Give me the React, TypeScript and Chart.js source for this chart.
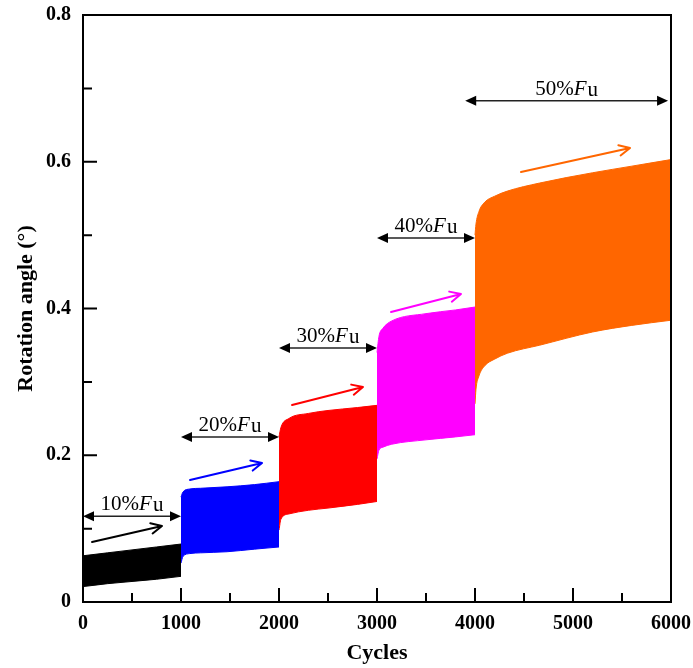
import React, { useEffect, useRef } from "react";
import { Chart, registerables } from "chart.js";

Chart.register(...registerables);

// ---- data ----
const stage10X = [0, 250, 500, 750, 1000];
const stage10Upper = [0.063, 0.067, 0.071, 0.075, 0.079];
const stage10Lower = [0.021, 0.025, 0.028, 0.031, 0.035];

const stage20X = [1000, 1020, 1090, 1200, 1470, 1750, 2000];
const stage20Upper = [0.143, 0.15, 0.154, 0.155, 0.157, 0.16, 0.164];
const stage20Lower = [0.053, 0.062, 0.066, 0.067, 0.0685, 0.072, 0.075];

const stage30X = [2000, 2020, 2100, 2300, 2500, 2800, 3000];
const stage30Upper = [0.225, 0.238, 0.25, 0.257, 0.261, 0.265, 0.268];
const stage30Lower = [0.098, 0.113, 0.12, 0.125, 0.128, 0.133, 0.137];

const stage40X = [3000, 3020, 3060, 3150, 3500, 3800, 4000];
const stage40Upper = [0.34, 0.362, 0.373, 0.383, 0.393, 0.398, 0.402];
const stage40Lower = [0.195, 0.207, 0.211, 0.215, 0.221, 0.225, 0.228];

const stage50X = [4000, 4010, 4040, 4100, 4200, 4330, 4660, 5200, 5600, 6000];
const stage50Upper = [0.5, 0.515, 0.532, 0.545, 0.553, 0.56, 0.571, 0.585, 0.594, 0.603];
const stage50Lower = [0.27, 0.29, 0.308, 0.322, 0.331, 0.339, 0.35, 0.368, 0.377, 0.384];

const stageLabels = ["10%", "20%", "30%", "40%", "50%"];
const stageColors = ["#000000", "#0000ff", "#ff0000", "#ff00ff", "#ff6600"];

// double-headed range arrows: [xStart, xEnd, y]
const rangeStart = [0, 1000, 2000, 3000, 3900];
const rangeEnd = [1000, 2000, 3000, 4000, 5970];
const rangeY = [0.117, 0.225, 0.346, 0.496, 0.683];

// trend arrows: from (x1,y1) to (x2,y2)
const trendX1 = [92, 1092, 2133, 3143, 4469];
const trendY1 = [0.0818, 0.1663, 0.2685, 0.3952, 0.586];
const trendX2 = [806, 1827, 2857, 3857, 5582];
const trendY2 = [0.1036, 0.1894, 0.293, 0.4198, 0.6187];

const xTicks = [0, 1000, 2000, 3000, 4000, 5000, 6000];
const yTicks = [0, 0.2, 0.4, 0.6, 0.8];

const SERIF = '"Liberation Serif", "Times New Roman", serif';

const stages = [
  { x: stage10X, up: stage10Upper, lo: stage10Lower },
  { x: stage20X, up: stage20Upper, lo: stage20Lower },
  { x: stage30X, up: stage30Upper, lo: stage30Lower },
  { x: stage40X, up: stage40Upper, lo: stage40Lower },
  { x: stage50X, up: stage50Upper, lo: stage50Lower },
];

const decorPlugin = {
  id: "decor",
  afterDatasetsDraw(chart: any) {
    const { ctx, chartArea, scales } = chart;
    const xs = scales.x;
    const ys = scales.y;
    ctx.save();
    // frame
    ctx.strokeStyle = "#000";
    ctx.lineWidth = 2;
    ctx.strokeRect(chartArea.left, chartArea.top, chartArea.right - chartArea.left, chartArea.bottom - chartArea.top);
    // inward ticks
    ctx.beginPath();
    for (let v = 0; v <= 6000; v += 500) {
      const px = xs.getPixelForValue(v);
      const len = v % 1000 === 0 ? 14 : 9;
      ctx.moveTo(px, chartArea.bottom);
      ctx.lineTo(px, chartArea.bottom - len);
    }
    for (let i = 0; i <= 8; i++) {
      const v = i * 0.1;
      const py = ys.getPixelForValue(v);
      const len = i % 2 === 0 ? 14 : 9;
      ctx.moveTo(chartArea.left, py);
      ctx.lineTo(chartArea.left + len, py);
    }
    ctx.stroke();

    // range arrows + labels
    for (let i = 0; i < rangeStart.length; i++) {
      const x1 = xs.getPixelForValue(rangeStart[i]);
      const x2 = xs.getPixelForValue(rangeEnd[i]);
      const y = ys.getPixelForValue(rangeY[i]);
      ctx.strokeStyle = "#222";
      ctx.fillStyle = "#000";
      ctx.lineWidth = 1.5;
      ctx.beginPath();
      ctx.moveTo(x1 + 8, y);
      ctx.lineTo(x2 - 8, y);
      ctx.stroke();
      ctx.beginPath();
      ctx.moveTo(x1, y);
      ctx.lineTo(x1 + 11, y - 5);
      ctx.lineTo(x1 + 11, y + 5);
      ctx.closePath();
      ctx.fill();
      ctx.beginPath();
      ctx.moveTo(x2, y);
      ctx.lineTo(x2 - 11, y - 5);
      ctx.lineTo(x2 - 11, y + 5);
      ctx.closePath();
      ctx.fill();

      // label: "NN%" + italic F + u
      const fontR = `21px ${SERIF}`;
      const fontI = `italic 21px ${SERIF}`;
      const p1 = stageLabels[i];
      ctx.font = fontR;
      const w1 = ctx.measureText(p1).width;
      const w3 = ctx.measureText("u").width;
      ctx.font = fontI;
      const w2 = ctx.measureText("F").width;
      const total = w1 + w2 + w3 + 1;
      const cx = (x1 + x2) / 2;
      let tx = cx - total / 2;
      const ty = y - 6;
      ctx.textBaseline = "alphabetic";
      ctx.textAlign = "left";
      ctx.fillStyle = "#000";
      ctx.font = fontR;
      ctx.fillText(p1, tx, ty);
      tx += w1;
      ctx.font = fontI;
      ctx.fillText("F", tx, ty);
      tx += w2;
      ctx.font = fontR;
      ctx.fillText("u", tx + 1, ty + 1);
    }

    // trend arrows
    for (let i = 0; i < trendX1.length; i++) {
      const ax = xs.getPixelForValue(trendX1[i]);
      const ay = ys.getPixelForValue(trendY1[i]);
      const bx = xs.getPixelForValue(trendX2[i]);
      const by = ys.getPixelForValue(trendY2[i]);
      const ang = Math.atan2(by - ay, bx - ax);
      ctx.strokeStyle = stageColors[i];
      ctx.lineWidth = 2;
      ctx.lineCap = "round";
      ctx.beginPath();
      ctx.moveTo(ax, ay);
      ctx.lineTo(bx, by);
      const hl = 12;
      const ha = 0.45;
      ctx.moveTo(bx, by);
      ctx.lineTo(bx - hl * Math.cos(ang - ha), by - hl * Math.sin(ang - ha));
      ctx.moveTo(bx, by);
      ctx.lineTo(bx - hl * Math.cos(ang + ha), by - hl * Math.sin(ang + ha));
      ctx.stroke();
    }
    ctx.restore();
  },
};

export default function App() {
  const ref = useRef<HTMLCanvasElement | null>(null);
  useEffect(() => {
    if (!ref.current) return;
    const datasets: any[] = [];
    stages.forEach((s, i) => {
      datasets.push({
        label: stageLabels[i] + " upper",
        data: s.x.map((x, k) => ({ x, y: s.up[k] })),
        borderColor: stageColors[i],
        backgroundColor: stageColors[i],
        borderWidth: 1,
        pointRadius: 0,
        cubicInterpolationMode: "monotone",
        fill: false,
      });
      datasets.push({
        label: stageLabels[i] + " lower",
        data: s.x.map((x, k) => ({ x, y: s.lo[k] })),
        borderColor: stageColors[i],
        backgroundColor: stageColors[i],
        borderWidth: 1,
        pointRadius: 0,
        cubicInterpolationMode: "monotone",
        fill: "-1",
      });
    });
    const tickFont = { family: SERIF, size: 20, weight: "bold" as const };
    const chart = new Chart(ref.current, {
      type: "line",
      data: { datasets },
      plugins: [decorPlugin],
      options: {
        animation: false,
        responsive: false,
        maintainAspectRatio: false,
        layout: { padding: { top: 15, right: 22, left: 0, bottom: 0 } },
        plugins: { legend: { display: false }, tooltip: { enabled: false } },
        scales: {
          x: {
            type: "linear",
            min: 0,
            max: 6000,
            afterBuildTicks: (s: any) => {
              s.ticks = xTicks.map((v) => ({ value: v }));
            },
            afterFit: (s: any) => {
              s.height = 66;
              s.paddingLeft = 0;
              s.paddingRight = 0;
            },
            ticks: {
              font: tickFont,
              color: "#000",
              padding: 10,
              maxRotation: 0,
              autoSkip: false,
              callback: (v: any) => String(v),
            },
            grid: { display: false, drawTicks: false },
            border: { display: false },
            title: {
              display: true,
              text: "Cycles",
              color: "#000",
              font: { family: SERIF, size: 22, weight: "bold" },
              padding: { top: 0, bottom: 1 },
            },
          },
          y: {
            type: "linear",
            min: 0,
            max: 0.8,
            afterBuildTicks: (s: any) => {
              s.ticks = yTicks.map((v) => ({ value: v }));
            },
            afterFit: (s: any) => {
              s.width = 83;
              s.paddingTop = 0;
              s.paddingBottom = 0;
            },
            ticks: {
              font: tickFont,
              color: "#000",
              padding: 12,
              callback: (v: any) => (Number(v) === 0 ? "0" : Number(v).toFixed(1)),
            },
            grid: { display: false, drawTicks: false },
            border: { display: false },
            title: {
              display: true,
              text: "Rotation angle (°)",
              color: "#000",
              font: { family: SERIF, size: 22, weight: "bold" },
              padding: { top: 13, bottom: 0 },
            },
          },
        },
      },
    });
    return () => chart.destroy();
  }, []);
  return (
    <div style={{ position: "absolute", left: 0, top: 0, width: 693, height: 668, background: "#fff" }}>
      <canvas ref={ref} width={693} height={668} style={{ display: "block" }} />
    </div>
  );
}
